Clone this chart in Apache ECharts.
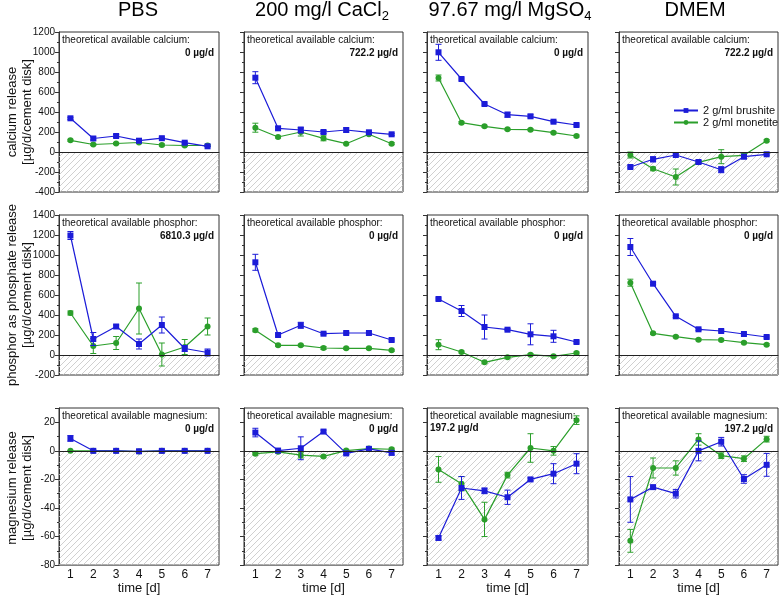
<!DOCTYPE html>
<html>
<head>
<meta charset="utf-8">
<script src="https://cdn.jsdelivr.net/npm/echarts@6/dist/echarts.min.js"></script>
<style>
  html, body { margin: 0; padding: 0; background: #fff; }
  #chart { width: 779px; height: 596px; }
</style>
</head>
<body>
<div id="chart"></div>
<script>
// ---- data ----
const days = ['1', '2', '3', '4', '5', '6', '7']
const media = ['PBS', '200 mg/l CaCl{sub|2}', '97.67 mg/l MgSO{sub|4}', 'DMEM']
const elements = ['calcium', 'phosphor', 'magnesium']
const rowNames = ['calcium release', 'phosphor as phosphate release', 'magnesium release']

// theoretical available amount per medium [µg/d]
const caTheory = ['0', '722.2', '0', '722.2']
const pTheory = ['6810.3', '0', '0', '0']
const mgTheory = ['0', '0', '197.2', '197.2']

// calcium release, one line per medium (PBS, CaCl2, MgSO4, DMEM)
const caBrushite = [
  [337, 135, 160, 113, 138, 93, 57],
  [743, 237, 220, 200, 220, 197, 177],
  [997, 730, 480, 373, 357, 303, 270],
  [-150, -73, -30, -100, -177, -47, -23]
]
const caBrushiteErr = [
  [10, 15, 15, 10, 10, 10, 5],
  [60, 15, 30, 15, 20, 10, 10],
  [80, 10, 10, 25, 15, 10, 10],
  [10, 25, 10, 15, 30, 20, 10]
]
const caMonetite = [
  [117, 75, 85, 95, 70, 65, 65],
  [243, 150, 200, 137, 83, 177, 83],
  [740, 293, 257, 227, 223, 193, 160],
  [-30, -167, -250, -103, -47, -33, 113]
]
const caMonetiteErr = [
  [10, 10, 10, 10, 10, 10, 10],
  [45, 10, 40, 25, 10, 10, 10],
  [30, 10, 10, 10, 10, 10, 10],
  [30, 15, 80, 15, 70, 15, 10]
]

// phosphor as phosphate release
const pBrushite = [
  [1195, 160, 285, 110, 300, 65, 25],
  [927, 200, 297, 213, 220, 220, 150],
  [560, 440, 280, 253, 207, 187, 130],
  [1080, 713, 387, 257, 240, 210, 180]
]
const pBrushiteErr = [
  [40, 65, 15, 50, 80, 30, 35],
  [80, 10, 30, 10, 10, 10, 10],
  [10, 55, 120, 10, 105, 60, 10],
  [85, 10, 10, 10, 10, 10, 10]
]
const pMonetite = [
  [420, 90, 120, 465, 5, 80, 285],
  [247, 97, 97, 70, 67, 67, 47],
  [103, 30, -73, -23, 3, -13, 20],
  [723, 217, 183, 153, 150, 123, 103]
]
const pMonetiteErr = [
  [20, 75, 65, 255, 115, 75, 85],
  [15, 10, 10, 15, 10, 10, 10],
  [50, 10, 10, 10, 10, 10, 10],
  [35, 10, 10, 10, 10, 10, 10]
]

// magnesium release
const mgBrushite = [
  [8.7, 0, 0, -0.3, 0, 0, 0],
  [12.8, 0.2, 1.8, 13.5, -1.8, 1.4, -1.4],
  [-61, -26, -28, -32.5, -20, -16, -9],
  [-34, -25.4, -30, 0, 6.4, -19.7, -9.8]
]
const mgBrushiteErr = [
  [2, 0.5, 0.5, 0.8, 0.5, 0.5, 0.5],
  [3, 0.5, 8, 1, 0.8, 0.8, 1.5],
  [1.5, 8, 2, 5, 1, 7, 7],
  [16, 0.8, 3, 7, 3, 3, 8]
]
const mgMonetite = [
  [0, 0, 0, -0.5, 0, 0, 0],
  [-2, -0.7, -3, -3.9, 0.2, 1.6, 1.1],
  [-13, -23, -48, -17, 2, 0, 21.5],
  [-63, -12, -12, 8, -3.4, -5.5, 8.2]
]
const mgMonetiteErr = [
  [0.3, 0.3, 0.3, 0.3, 0.3, 0.3, 0.3],
  [0.8, 0.8, 2, 0.8, 0.8, 0.8, 0.8],
  [9, 5, 12, 2, 10, 3, 3],
  [8, 7, 5, 4, 2, 2, 2]
]

// y axis ranges per row
const yMin = [-400, -200, -80]
const yMax = [1200, 1400, 30]
const yStep = [200, 200, 20]

// ---- layout ----
const gridLeft = [59, 244, 427, 619]
const gridWidth = [160, 159, 161, 159]
const gridTop = [32, 215, 408]
const gridHeight = 160
const BLUE = '#1c1cd8'
const GREEN = '#2b9f2b'
const FONT = 'Liberation Sans, Arial, sans-serif'

const brushite = [caBrushite, pBrushite, mgBrushite]
const brushiteErr = [caBrushiteErr, pBrushiteErr, mgBrushiteErr]
const monetite = [caMonetite, pMonetite, mgMonetite]
const monetiteErr = [caMonetiteErr, pMonetiteErr, mgMonetiteErr]
const theory = [caTheory, pTheory, mgTheory]

// hatch pattern for the negative region
function makeHatch() {
  const c = document.createElement('canvas')
  c.width = 6
  c.height = 6
  const ctx = c.getContext('2d')
  ctx.strokeStyle = '#c4c4c4'
  ctx.lineWidth = 0.8
  ctx.beginPath()
  ctx.moveTo(0, 6); ctx.lineTo(6, 0)
  ctx.moveTo(-1, 1); ctx.lineTo(1, -1)
  ctx.moveTo(5, 7); ctx.lineTo(7, 5)
  ctx.stroke()
  return c
}
const hatch = { image: makeHatch(), repeat: 'repeat' }

function errorBar(color) {
  return function (params, api) {
    const x = api.value(0)
    const lo = api.coord([x, api.value(1)])
    const hi = api.coord([x, api.value(2)])
    const w = 3
    const style = { stroke: color, lineWidth: 1 }
    return {
      type: 'group',
      children: [
        { type: 'line', shape: { x1: lo[0], y1: lo[1], x2: hi[0], y2: hi[1] }, style: style },
        { type: 'line', shape: { x1: lo[0] - w, y1: lo[1], x2: lo[0] + w, y2: lo[1] }, style: style },
        { type: 'line', shape: { x1: hi[0] - w, y1: hi[1], x2: hi[0] + w, y2: hi[1] }, style: style }
      ]
    }
  }
}

const grids = []
const xAxes = []
const yAxes = []
const series = []
const graphics = []

for (let r = 0; r < 3; r++) {
  for (let c = 0; c < 4; c++) {
    const g = r * 4 + c
    grids.push({
      left: gridLeft[c], top: gridTop[r], width: gridWidth[c], height: gridHeight,
      show: true, borderColor: '#333', borderWidth: 1, backgroundColor: 'transparent'
    })
    xAxes.push({
      type: 'category', gridIndex: g, data: days, boundaryGap: true, position: 'bottom',
      axisLine: { lineStyle: { color: '#333' } },
      axisTick: { alignWithLabel: true, interval: 0, length: 5, lineStyle: { color: '#333' } },
      axisLabel: { show: r === 2, interval: 0, fontSize: 12, color: '#111', margin: 4, fontFamily: FONT },
      name: r === 2 ? 'time [d]' : '', nameLocation: 'middle', nameGap: 15,
      nameTextStyle: { fontSize: 13, color: '#111', fontFamily: FONT, verticalAlign: 'top' }
    })
    // second axis only for the minor ticks between days
    xAxes.push({
      type: 'category', gridIndex: g, data: days, boundaryGap: true, position: 'bottom',
      axisLine: { show: false },
      axisTick: { alignWithLabel: false, interval: 0, length: 3, lineStyle: { color: '#333' } },
      axisLabel: { show: false }
    })
    yAxes.push({
      type: 'value', gridIndex: g, min: yMin[r], max: yMax[r], interval: yStep[r],
      splitLine: { show: false },
      axisLine: { show: true, lineStyle: { color: '#333' } },
      axisTick: { show: true, length: 4, lineStyle: { color: '#333' } },
      minorTick: { show: true, splitNumber: 2, length: 2, lineStyle: { color: '#333' } },
      axisLabel: {
        show: c === 0, fontSize: 10, color: '#111', margin: 4, fontFamily: FONT,
        formatter: v => (v > yMax[r] - yStep[r] / 2 && r === 2) ? '' : String(v)
      }
    })

    const bErr = brushiteErr[r][c]
    const mErr = monetiteErr[r][c]
    series.push({
      name: '2 g/ml brushite', type: 'line', xAxisIndex: 2 * g, yAxisIndex: g,
      data: brushite[r][c], symbol: 'rect', symbolSize: 6, color: BLUE,
      lineStyle: { color: BLUE, width: 1.2 }, z: 4,
      markArea: {
        silent: true,
        itemStyle: { color: hatch },
        data: [[{ yAxis: yMin[r] }, { yAxis: 0 }]]
      },
      markLine: {
        silent: true, symbol: ['none', 'none'], label: { show: false },
        lineStyle: { color: '#222', width: 1, type: 'solid' },
        data: [{ yAxis: 0 }]
      }
    })
    series.push({
      name: '2 g/ml monetite', type: 'line', xAxisIndex: 2 * g, yAxisIndex: g,
      data: monetite[r][c], symbol: 'circle', symbolSize: 6, color: GREEN,
      lineStyle: { color: GREEN, width: 1.2 }, z: 3
    })
    series.push({
      name: 'err-b', type: 'custom', xAxisIndex: 2 * g, yAxisIndex: g, z: 4,
      renderItem: errorBar(BLUE), encode: { x: 0, y: [1, 2] },
      data: brushite[r][c].map((v, i) => [i, v - bErr[i], v + bErr[i]])
    })
    series.push({
      name: 'err-m', type: 'custom', xAxisIndex: 2 * g, yAxisIndex: g, z: 3,
      renderItem: errorBar(GREEN), encode: { x: 0, y: [1, 2] },
      data: monetite[r][c].map((v, i) => [i, v - mErr[i], v + mErr[i]])
    })

    // "theoretical available ..." annotation
    graphics.push({
      type: 'text', x: gridLeft[c] + 3, y: gridTop[r] + 8, z: 10,
      style: {
        text: 'theoretical available ' + elements[r] + ':', fontSize: 10, fontFamily: FONT,
        fill: '#111', align: 'left', verticalAlign: 'middle'
      }
    })
    const leftValue = (r === 2 && c === 2)
    graphics.push({
      type: 'text', z: 10,
      x: leftValue ? gridLeft[c] + 3 : gridLeft[c] + gridWidth[c] - 5,
      y: gridTop[r] + (leftValue ? 20 : 21),
      style: {
        text: theory[r][c] + ' µg/d', fontSize: 10, fontWeight: 'bold', fontFamily: FONT,
        fill: '#111', align: leftValue ? 'left' : 'right', verticalAlign: 'middle'
      }
    })
  }
  // row axis titles
  graphics.push({
    type: 'text', x: 12, y: gridTop[r] + gridHeight / 2, rotation: Math.PI / 2,
    style: { text: rowNames[r], fontSize: 13, fontFamily: FONT, fill: '#111', align: 'center', verticalAlign: 'middle' }
  })
  graphics.push({
    type: 'text', x: 27, y: gridTop[r] + gridHeight / 2, rotation: Math.PI / 2,
    style: { text: '[µg/d/cement disk]', fontSize: 13, fontFamily: FONT, fill: '#111', align: 'center', verticalAlign: 'middle' }
  })
}

// column titles
const titleX = [138, 322, 510, 695]
media.forEach((m, c) => {
  graphics.push({
    type: 'text', x: titleX[c], y: 10,
    style: {
      text: m, fontSize: 20, fontFamily: FONT, fill: '#000', align: 'center', verticalAlign: 'middle',
      lineHeight: 26,
      rich: { sub: { fontSize: 13, lineHeight: 14, verticalAlign: 'bottom', fontFamily: FONT, fill: '#000' } }
    }
  })
})

const chart = echarts.init(document.getElementById('chart'))
chart.setOption({
  animation: false,
  textStyle: { fontFamily: FONT },
  grid: grids,
  xAxis: xAxes,
  yAxis: yAxes,
  legend: {
    data: ['2 g/ml brushite', '2 g/ml monetite'],
    orient: 'vertical', left: 668, top: 100, itemWidth: 24, itemHeight: 6, itemGap: 1,
    textStyle: { fontSize: 11, color: '#111', fontFamily: FONT }
  },
  graphic: graphics,
  series: series
})
</script>
</body>
</html>
